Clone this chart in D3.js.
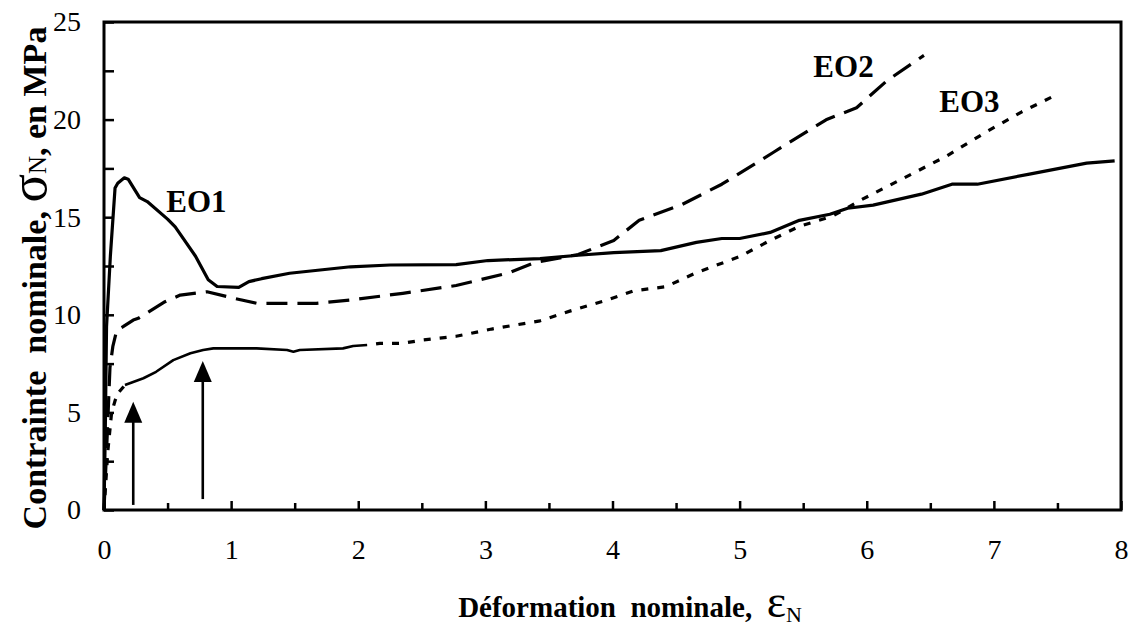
<!DOCTYPE html>
<html>
<head>
<meta charset="utf-8">
<script src="https://cdn.jsdelivr.net/npm/d3@7"></script>
<style>
  html, body { margin: 0; padding: 0; background: #fff; }
  svg { display: block; }
  text { font-family: "Liberation Serif", "Times New Roman", serif; fill: #000; white-space: pre; }
</style>
</head>
<body>
<svg id="chart" width="1129" height="631"></svg>
<script>
// Nominal stress–strain curves for three specimens (strain, stress in MPa)
const eo1Strain = [0, 0.01, 0.02, 0.05, 0.087, 0.108, 0.16, 0.19, 0.28, 0.34, 0.5, 0.56, 0.72, 0.82, 0.89, 1.06, 1.14, 1.24, 1.46, 1.94, 2.25, 2.77, 3.02, 3.43, 3.73, 4.01, 4.38, 4.66, 4.86, 5.0, 5.24, 5.47, 5.71, 5.85, 6.05, 6.43, 6.67, 6.87, 7.28, 7.73, 7.95];
const eo1Stress = [0, 4, 9.4, 13, 16.5, 16.74, 17.02, 16.95, 16.0, 15.8, 14.9, 14.5, 13.0, 11.8, 11.45, 11.4, 11.7, 11.85, 12.13, 12.46, 12.55, 12.57, 12.78, 12.88, 13.05, 13.19, 13.29, 13.71, 13.91, 13.91, 14.22, 14.84, 15.15, 15.46, 15.62, 16.18, 16.69, 16.69, 17.21, 17.77, 17.89];

const eo2Strain = [0, 0.02, 0.047, 0.07, 0.1, 0.15, 0.23, 0.27, 0.48, 0.6, 0.81, 1.02, 1.2, 1.67, 1.94, 2.35, 2.77, 3.19, 3.39, 3.73, 4.01, 4.21, 4.55, 4.86, 5.27, 5.68, 5.92, 6.16, 6.45];
const eo2Stress = [0, 3, 7.3, 8.4, 9.2, 9.39, 9.73, 9.82, 10.67, 11.01, 11.18, 10.85, 10.59, 10.59, 10.76, 11.1, 11.5, 12.16, 12.68, 13.09, 13.81, 14.84, 15.66, 16.69, 18.34, 19.99, 20.61, 22.0, 23.29];

const eo3Strain = [0, 0.03, 0.06, 0.087, 0.11, 0.165, 0.31, 0.41, 0.545, 0.68, 0.78, 0.86, 1.2, 1.44, 1.49, 1.54, 1.88, 1.96, 2.07, 2.17, 2.35, 2.51, 2.77, 3.05, 3.43, 3.67, 3.94, 4.17, 4.42, 4.66, 5.0, 5.24, 5.47, 5.73, 5.95, 6.26, 6.63, 6.94, 7.22, 7.51];
const eo3Stress = [0, 3, 5, 5.6, 5.98, 6.4, 6.75, 7.08, 7.68, 8.03, 8.2, 8.28, 8.28, 8.2, 8.11, 8.2, 8.28, 8.4, 8.45, 8.54, 8.54, 8.71, 8.9, 9.27, 9.69, 10.2, 10.72, 11.23, 11.44, 12.16, 12.98, 13.81, 14.53, 15.05, 15.87, 16.9, 18.14, 19.37, 20.4, 21.33];
// EO3 is traced as a continuous line over this strain interval
const eo3SolidRange = [0.165, 2.07];

// Axis ticks
const xTickLabels = [0, 1, 2, 3, 4, 5, 6, 7, 8];
const xMinorTicks = [0.5, 1.5, 2.5, 3.5, 4.5, 5.5, 6.5, 7.5];
const yTickLabels = [0, 5, 10, 15, 20, 25];
const yMinorTicks = [2.5, 7.5, 12.5, 17.5, 22.5];

// Curve names and arrow markers (strain position, shaft start stress, tip stress)
const curveNames = ["EO1", "EO2", "EO3"];
const arrowStrain = [0.23, 0.777];
const arrowFrom = [0.26, 0.56];
const arrowTo = [5.55, 7.63];

const svg = d3.select("#chart");
const m = { left: 104, right: 1121, top: 22, bottom: 510 };

const x = d3.scaleLinear().domain([0, 8]).range([m.left, m.right]);
const y = d3.scaleLinear().domain([0, 25]).range([m.bottom, m.top]);

const zip = (xs, ys) => xs.map((v, i) => [v, ys[i]]);
const line = d3.line().x(d => x(d[0])).y(d => y(d[1]));

const eo1 = zip(eo1Strain, eo1Stress);
const eo2 = zip(eo2Strain, eo2Stress);
const eo3 = zip(eo3Strain, eo3Stress);

// Bottom axis: inward major/minor ticks, labels below
svg.append("g").attr("transform", `translate(0,${m.bottom})`)
  .call(d3.axisBottom(x).tickValues(xTickLabels).tickSizeInner(-9).tickSizeOuter(0).tickPadding(29).tickFormat(d3.format("d")));
svg.append("g").attr("transform", `translate(0,${m.bottom})`)
  .call(d3.axisBottom(x).tickValues(xMinorTicks).tickSizeInner(-7).tickSizeOuter(0).tickFormat(""));

// Left axis
svg.append("g").attr("transform", `translate(${m.left},0)`)
  .call(d3.axisLeft(y).tickValues(yTickLabels).tickSizeInner(-10).tickSizeOuter(0).tickPadding(23).tickFormat(d3.format("d")));
svg.append("g").attr("transform", `translate(${m.left},0)`)
  .call(d3.axisLeft(y).tickValues(yMinorTicks).tickSizeInner(-10).tickSizeOuter(0).tickFormat(""));

svg.selectAll(".domain").remove();
svg.selectAll(".tick line").attr("stroke", "#000").attr("stroke-width", 2.5);
svg.selectAll(".tick text").attr("font-size", 28).attr("font-family", "Liberation Serif").attr("fill", "#000");

// Frame
svg.append("rect")
  .attr("x", m.left).attr("y", m.top)
  .attr("width", m.right - m.left).attr("height", m.bottom - m.top)
  .attr("fill", "none").attr("stroke", "#000").attr("stroke-width", 3);

// Curves
const curves = svg.append("g").attr("fill", "none").attr("stroke", "#000")
  .attr("stroke-linejoin", "round");

curves.append("path").datum(eo1).attr("d", line).attr("stroke-width", 3.2);
curves.append("path").datum(eo2).attr("d", line).attr("stroke-width", 3.2)
  .attr("stroke-dasharray", "21,10");

// EO3: dotted except for the continuous stretch
const eo3Solid = eo3.filter(d => d[0] >= eo3SolidRange[0] && d[0] <= eo3SolidRange[1]);
const eo3Start = eo3.filter(d => d[0] <= eo3SolidRange[0]);
const eo3End = eo3.filter(d => d[0] >= eo3SolidRange[1]);
curves.append("path").datum(eo3Start).attr("d", line).attr("stroke-width", 3.2)
  .attr("stroke-dasharray", "7,8");
curves.append("path").datum(eo3Solid).attr("d", line).attr("stroke-width", 2.6);
curves.append("path").datum(eo3End).attr("d", line).attr("stroke-width", 3.2)
  .attr("stroke-dasharray", "7,9").attr("stroke-dashoffset", -9);

// Curve labels
const labelPos = [[0.49, 15.28], [5.58, 22.16], [6.57, 20.4]];
svg.append("g").selectAll("text").data(curveNames).join("text")
  .attr("x", (d, i) => x(labelPos[i][0]))
  .attr("y", (d, i) => y(labelPos[i][1]))
  .attr("font-size", 31).attr("font-weight", "bold")
  .text(d => d);

// Arrows
const arrows = svg.append("g");
arrowStrain.forEach((s, i) => {
  const ax = x(s), y0 = y(arrowFrom[i]), y1 = y(arrowTo[i]);
  arrows.append("line").attr("x1", ax).attr("x2", ax).attr("y1", y0).attr("y2", y1 + 18)
    .attr("stroke", "#000").attr("stroke-width", 2.6);
  arrows.append("path")
    .attr("d", `M${ax},${y1} L${ax - 9},${y1 + 21} L${ax + 9},${y1 + 21} Z`)
    .attr("fill", "#000");
});

// X axis title
const xt = svg.append("text").attr("x", 630).attr("y", 617).attr("text-anchor", "middle");
xt.append("tspan").attr("font-size", 29).attr("font-weight", "bold").text("Déformation  nominale,  ");
xt.append("tspan").attr("font-size", 46).text("ε");
xt.append("tspan").attr("font-size", 22).attr("dy", 5).text("N");

// Y axis title
const yt = svg.append("text").attr("transform", "translate(46,278) rotate(-90)").attr("text-anchor", "middle");
yt.append("tspan").attr("font-size", 34).attr("font-weight", "bold").text("Contrainte  nominale, ");
yt.append("tspan").attr("font-size", 53).text("σ");
yt.append("tspan").attr("font-size", 25).text("N");
yt.append("tspan").attr("font-size", 34).attr("font-weight", "bold").text(", en MPa");
</script>
</body>
</html>
